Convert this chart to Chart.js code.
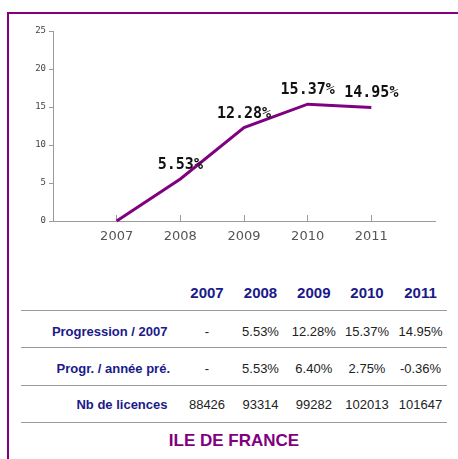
<!DOCTYPE html>
<html>
<head>
<meta charset="utf-8">
<script src="https://cdn.jsdelivr.net/npm/chart.js@4"></script>
<style>
  html, body { margin:0; padding:0; background:#fff; width:458px; height:459px; overflow:hidden; }
  #frame { position:absolute; left:7px; top:12px; width:470px; height:470px; border-left:2.5px solid #800080; border-top:2.5px solid #800080; box-sizing:border-box; }
  #chartWrap { position:absolute; left:0; top:0; width:458px; height:255px; }
  .t { position:absolute; font-family:"Liberation Sans", Arial, sans-serif; white-space:nowrap; line-height:1; }
  .hdr { font-weight:bold; font-size:15px; color:#1a1a8a; transform:translate(-50%,-50%); }
  .lbl { font-weight:bold; font-size:13px; color:#1a1a8a; transform:translate(-100%,-50%); }
  .val { font-size:13px; color:#222; transform:translate(-50%,-50%); }
  .rule { position:absolute; left:21px; width:426px; height:1px; background:#9a9a9a; }
  .title { font-weight:bold; font-size:17px; color:#800080; transform:translate(-50%,-50%); }
</style>
</head>
<body>
<div id="frame"></div>
<div id="chartWrap"><canvas id="c" width="458" height="255"></canvas></div>
<div id="table"></div>
<script>
const years = [2007, 2008, 2009, 2010, 2011];
const progression2007 = [0, 5.53, 12.28, 15.37, 14.95];
const progressionAnnee = [null, 5.53, 6.40, 2.75, -0.36];
const licences = [88426, 93314, 99282, 102013, 101647];
const rowLabels = ["Progression / 2007", "Progr. / année pré.", "Nb de licences"];
const yTicks = [0, 5, 10, 15, 20, 25];
const regionName = "ILE DE FRANCE";

const labelPlugin = {
  id: 'pointLabels',
  afterDatasetsDraw(chart) {
    const ctx = chart.ctx;
    const meta = chart.getDatasetMeta(0);
    ctx.save();
    ctx.font = 'bold 15px "DejaVu Sans Mono", monospace';
    ctx.fillStyle = '#111';
    ctx.textAlign = 'center';
    ctx.textBaseline = 'middle';
    meta.data.forEach((pt, i) => {
      if (i === 0) return;
      ctx.fillText(progression2007[i].toFixed(2) + '%', pt.x, pt.y - 14);
    });
    ctx.restore();
  }
};

new Chart(document.getElementById('c'), {
  type: 'line',
  data: {
    datasets: [{
      data: years.map((y, i) => ({ x: y, y: progression2007[i] })),
      borderColor: '#800080',
      borderWidth: 3,
      pointRadius: 0,
      tension: 0,
      fill: false,
      clip: false
    }]
  },
  options: {
    responsive: false,
    animation: false,
    devicePixelRatio: 1,
    layout: { padding: { left: 0, top: 31, right: 23, bottom: 0 } },
    plugins: { legend: { display: false }, tooltip: { enabled: false } },
    scales: {
      x: {
        type: 'linear',
        min: years[0] - 1,
        max: years[years.length - 1] + 1,
        afterBuildTicks(s) { s.ticks = [years[0]-1].concat(years, [years[years.length-1]+1]).map(v => ({ value: v })); },
        afterFit(s) { s.height = 34; },
        border: { display: true, color: '#9a9a9a', width: 1 },
        grid: {
          drawOnChartArea: false,
          drawTicks: true,
          tickLength: -6,
          color: (c) => (c.tick && years.includes(c.tick.value)) ? '#9a9a9a' : 'rgba(0,0,0,0)'
        },
        ticks: {
          autoSkip: false,
          maxRotation: 0,
          padding: 14,
          color: '#555',
          font: { family: '"DejaVu Sans", sans-serif', size: 13 },
          callback: (v) => years.includes(v) ? String(v) : ''
        }
      },
      y: {
        min: 0,
        max: 25,
        afterBuildTicks(s) { s.ticks = yTicks.map(v => ({ value: v })); },
        afterFit(s) { s.width = 53; },
        border: { display: true, color: '#9a9a9a', width: 1 },
        grid: { drawOnChartArea: false, drawTicks: true, tickLength: 4, color: '#9a9a9a' },
        ticks: {
          padding: 3,
          color: '#444',
          font: { family: '"DejaVu Sans Mono", monospace', size: 9 }
        }
      }
    }
  },
  plugins: [labelPlugin]
});

// Table
const tbl = document.getElementById('table');
function add(cls, text, x, y) {
  const d = document.createElement('div');
  d.className = 't ' + cls;
  d.textContent = text;
  d.style.left = x + 'px';
  d.style.top = y + 'px';
  tbl.appendChild(d);
}
const colX = [207, 260.5, 313.8, 367, 420.5];
const rowY = [331, 368, 404];
const ruleY = [310, 347, 385, 422];
years.forEach((y, i) => add('hdr', String(y), colX[i], 292));
ruleY.forEach(y => { const r = document.createElement('div'); r.className = 'rule'; r.style.top = y + 'px'; tbl.appendChild(r); });
rowLabels.forEach((l, r) => add('lbl', l, r === 1 ? 170 : 167.5, rowY[r]));
years.forEach((y, i) => {
  add('val', i === 0 ? '-' : progression2007[i].toFixed(2) + '%', colX[i], rowY[0]);
  add('val', progressionAnnee[i] === null ? '-' : progressionAnnee[i].toFixed(2) + '%', colX[i], rowY[1]);
  add('val', String(licences[i]), colX[i], rowY[2]);
});
add('title', regionName, 234, 440);
</script>
</body>
</html>
